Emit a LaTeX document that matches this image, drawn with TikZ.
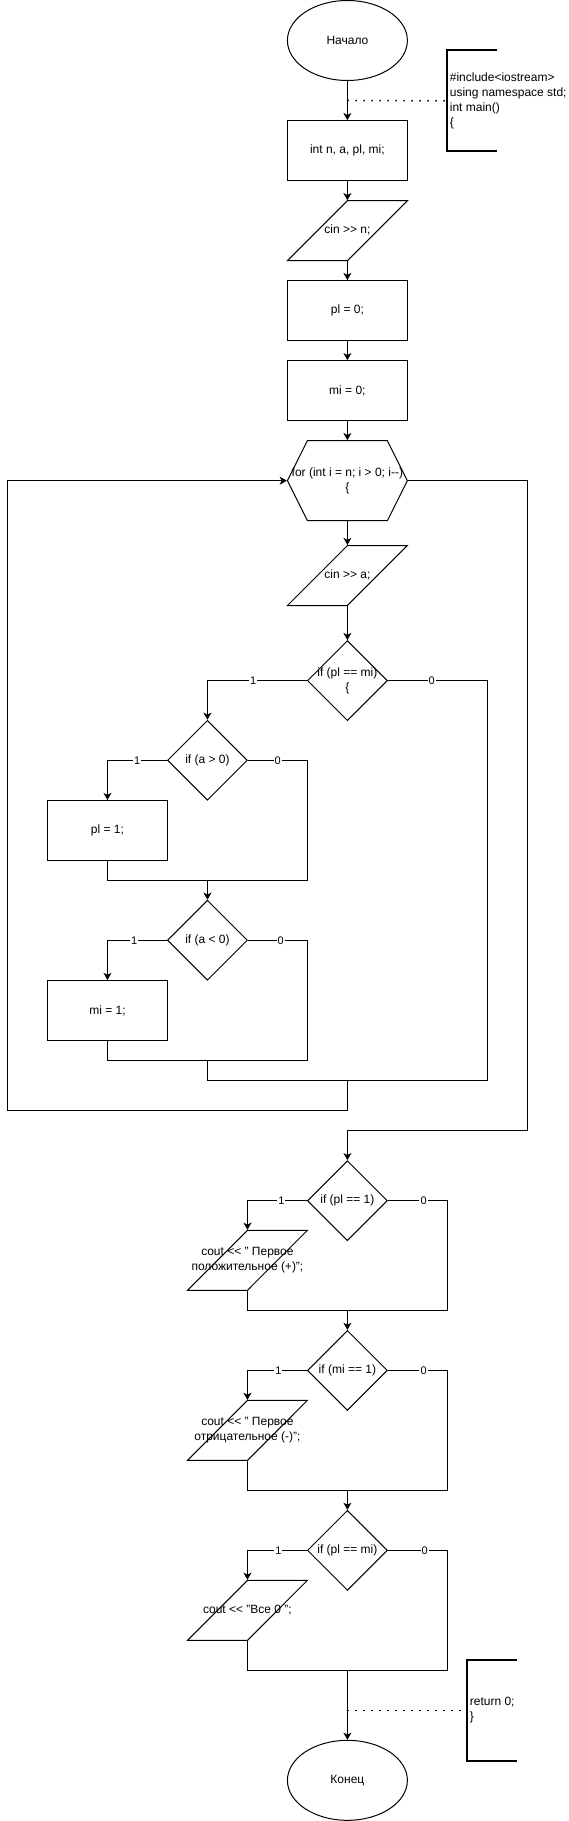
\documentclass[tikz,border=0pt]{standalone}
\usepackage{fontspec}
\setmainfont{Liberation Sans}
\usetikzlibrary{shapes.geometric,shapes.symbols,arrows.meta,positioning,calc}

\newcommand{\blk}[1]{\makebox[0pt]{\begin{tabular}{@{}c@{}}#1\end{tabular}}}

\begin{document}
\begin{tikzpicture}[x=0.75pt, y=-0.75pt, font=\fontsize{9pt}{11.25pt}\selectfont, line width=0.75pt, >={Stealth[length=5.4pt, width=6pt, inset=1.5pt]}]
    % Стили
    \tikzstyle{term} = [ellipse, draw, minimum width=90pt, minimum height=60pt, inner sep=0pt]
    \tikzstyle{proc} = [rectangle, draw, minimum width=90pt, minimum height=45pt, inner sep=0pt]
    \tikzstyle{io} = [trapezium, trapezium left angle=71.57, trapezium right angle=108.43, trapezium stretches=true, draw, minimum width=90pt, minimum height=45pt, inner sep=0pt]
    \tikzstyle{loopbox} = [signal, signal to=west and east, signal pointer angle=126.87, draw, minimum width=90pt, minimum height=60pt, inner sep=0pt]
    \tikzstyle{cond} = [diamond, draw, minimum width=60pt, minimum height=60pt, inner sep=0pt]
    \tikzstyle{codenote} = [anchor=west, align=left, inner xsep=1.5pt, inner ysep=0pt, minimum height=75pt]
    \tikzstyle{brk} = [draw, line width=1.5pt]
    \tikzstyle{conn} = [draw]
    \tikzstyle{arr} = [draw, ->]
    \tikzstyle{lbl} = [fill=white, inner sep=0.8pt, font=\fontsize{8.25pt}{9pt}\selectfont]
    \tikzstyle{dotline} = [draw, line width=1.1pt, dash pattern=on 1.1pt off 4.9pt]

    % Блоки
    \node[term] (start) at (347.5,40) {Начало};
    \node[proc] (decl) at (347.5,150.2) {int n, a, pl, mi;};
    \node[io] (inn) at (347.5,230.3) {\blk{cin >{}> n;}};
    \node[proc] (setpl) at (347.5,310.2) {pl = 0;};
    \node[proc] (setmi) at (347.5,390.3) {mi = 0;};
    \node[loopbox] (loop) at (347.5,480.3) {\blk{for (int i = n; i > 0; i-{}-)\\\{}};
    \node[io] (ina) at (347.5,575.2) {\blk{cin >{}> a;}};
    \node[cond] (ifeq) at (347.5,680.3) {\blk{if (pl == mi)\\\{}};
    \node[cond] (ifpos) at (207.5,760) {\blk{if (a > 0)}};
    \node[proc] (setpos) at (107.5,830.3) {pl = 1;};
    \node[cond] (ifneg) at (207.5,940) {\blk{if (a < 0)}};
    \node[proc] (setneg) at (107.5,1010.3) {mi = 1;};
    \node[cond] (ifp1) at (347.5,1200.5) {\blk{if (pl == 1)}};
    \node[io] (outpos) at (247.5,1260.2) {\blk{cout <{}< " Первое\\положительное (+)";}};
    \node[cond] (ifm1) at (347.5,1370.3) {\blk{if (mi == 1)}};
    \node[io] (outneg) at (247.5,1430.3) {\blk{cout <{}< " Первое\\отрицательное (-)";}};
    \node[cond] (ifz) at (347.5,1550.3) {\blk{if (pl == mi)}};
    \node[io] (outz) at (247.5,1610.3) {\blk{cout <{}< "Все 0 ";}};
    \node[term] (stop) at (347.5,1780.3) {Конец};

    % Комментарии
    \node[codenote] (incl) at (447.5,100.5) {\#include<iostream>\\using namespace std;\\int main()\\\{};
    \node[codenote] (ret) at (467.5,1710.3) {return 0;\\\}};
    \draw[brk] ([xshift=37.5pt]incl.north west) -- (incl.north west) -- (incl.south west) -- ([xshift=37.5pt]incl.south west);
    \draw[brk] ([xshift=37.5pt]ret.north west) -- (ret.north west) -- (ret.south west) -- ([xshift=37.5pt]ret.south west);

    % Точки ветвлений
    \coordinate (d1) at (347.5,100);
    \coordinate (d2) at (347.5,1710.3);
    \coordinate (r1) at (307.5,880.3);
    \coordinate (r2) at (307.5,1060.3);
    \coordinate (r3) at (487.5,1080.3);
    \coordinate (lb) at (7.5,1110.3);
    \coordinate (ex) at (527.5,1130);
    \coordinate (r4) at (447.5,1310);
    \coordinate (r5) at (447.5,1490);
    \coordinate (r6) at (447.5,1670.3);

    % Линии
    \draw[arr] (start) -- (decl);
    \draw[arr] (decl) -- (inn);
    \draw[arr] (inn) -- (setpl);
    \draw[arr] (setpl) -- (setmi);
    \draw[arr] (setmi) -- (loop);
    \draw[arr] (loop) -- (ina);
    \draw[arr] (ina) -- (ifeq);
    \draw[dotline] (d1) -- (incl.west);

    \draw[arr] (ifeq.west) -| node[lbl, pos=0.27] {1} (ifpos.north);
    \draw[conn] (ifeq.east) -| node[lbl, pos=0.22] {0} (r3) -| (r2 -| ifneg);

    \draw[arr] (ifpos.west) -| node[lbl, pos=0.25] {1} (setpos.north);
    \draw[conn] (ifpos.east) -| node[lbl, pos=0.25] {0} (r1) -- (r1 -| setpos) -- (setpos.south);
    \draw[arr] (r1 -| ifneg) -- (ifneg.north);

    \draw[arr] (ifneg.west) -| node[lbl, pos=0.275] {1} (setneg.north);
    \draw[conn] (ifneg.east) -| node[lbl, pos=0.275] {0} (r2) -- (r2 -| setneg) -- (setneg.south);

    \draw[arr] (r3 -| loop) |- (lb) |- (loop.west);
    \draw[arr] (loop.east) -| (ex) -| (ifp1.north);

    \draw[arr] (ifp1.west) -| node[lbl, pos=0.215] {1} (outpos.north);
    \draw[conn] (ifp1.east) -| node[lbl, pos=0.3] {0} (r4) -- (r4 -| outpos) -- (outpos.south);
    \draw[arr] (r4 -| ifm1) -- (ifm1.north);

    \draw[arr] (ifm1.west) -| node[lbl, pos=0.24] {1} (outneg.north);
    \draw[conn] (ifm1.east) -| node[lbl, pos=0.3] {0} (r5) -- (r5 -| outneg) -- (outneg.south);
    \draw[arr] (r5 -| ifz) -- (ifz.north);

    \draw[arr] (ifz.west) -| node[lbl, pos=0.24] {1} (outz.north);
    \draw[conn] (ifz.east) -| node[lbl, pos=0.31] {0} (r6) -- (r6 -| outz) -- (outz.south);
    \draw[arr] (r6 -| stop) -- (stop.north);
    \draw[dotline] (d2) -- (ret.west);

    \useasboundingbox (0,0) rectangle (567,1821);
\end{tikzpicture}
\end{document}
